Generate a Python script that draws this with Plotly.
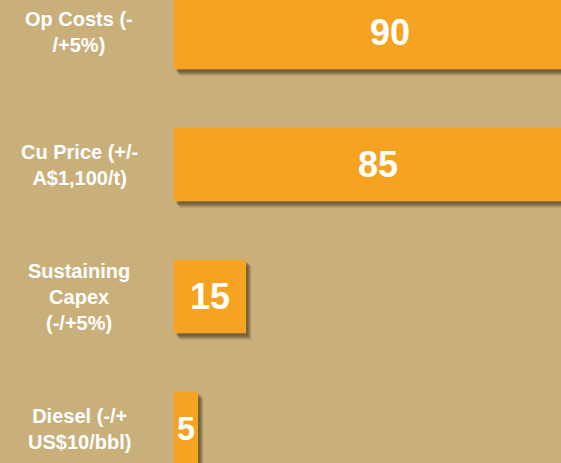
import plotly.graph_objects as go

# Sensitivity items and values
drivers = ["Op Costs (-<br>/+5%)", "Cu Price (+/-<br>A$1,100/t)",
           "Sustaining<br>Capex<br>(-/+5%)", "Diesel (-/+<br>US$10/bbl)"]
impact = [90, 85, 15, 5]

bg = "#C9B07B"
orange = "#F5A320"
bar_w = 0.556

fig = go.Figure()

# soft drop shadow: a few offset layers behind the bars
for shift, alpha in [(1.1, 0.2), (0.8, 0.28), (0.5, 0.35)]:
    fig.add_trace(go.Bar(
        y=drivers, x=impact, base=shift, orientation="h",
        width=bar_w, offset=-bar_w / 2 + shift * 0.045,
        marker=dict(color=f"rgba(70,55,30,{alpha})", line_width=0),
        hoverinfo="skip", showlegend=False,
    ))

fig.add_trace(go.Bar(
    y=drivers, x=impact, orientation="h",
    width=bar_w, offset=-bar_w / 2,
    marker=dict(color=orange, line_width=0),
    text=impact, textposition="inside", insidetextanchor="middle",
    textangle=0,
    textfont=dict(family="Liberation Sans, Arial, sans-serif", size=36,
                  color="white", weight="bold"),
    showlegend=False,
))

# category labels, centred to the left of the bars
for d in drivers:
    fig.add_annotation(
        x=0, xref="paper", y=d, yref="y", xshift=-95,
        text=f"<b>{d}</b>", showarrow=False, xanchor="center", align="center",
        font=dict(family="Liberation Sans, Arial, sans-serif", size=20,
                  color="white"),
    )

fig.update_layout(
    width=561, height=463,
    margin=dict(l=174, r=0, t=0, b=0),
    paper_bgcolor=bg, plot_bgcolor=bg,
    barmode="overlay",
    xaxis=dict(range=[0, 80.6], visible=False),
    yaxis=dict(categoryorder="array", categoryarray=drivers,
               range=[3.261, -0.246], visible=False),
)

# drop the page's default body margin so the figure fills the window
fig.write_html("out.html", config={"displayModeBar": False},
               post_script="document.body.style.margin='0';")
